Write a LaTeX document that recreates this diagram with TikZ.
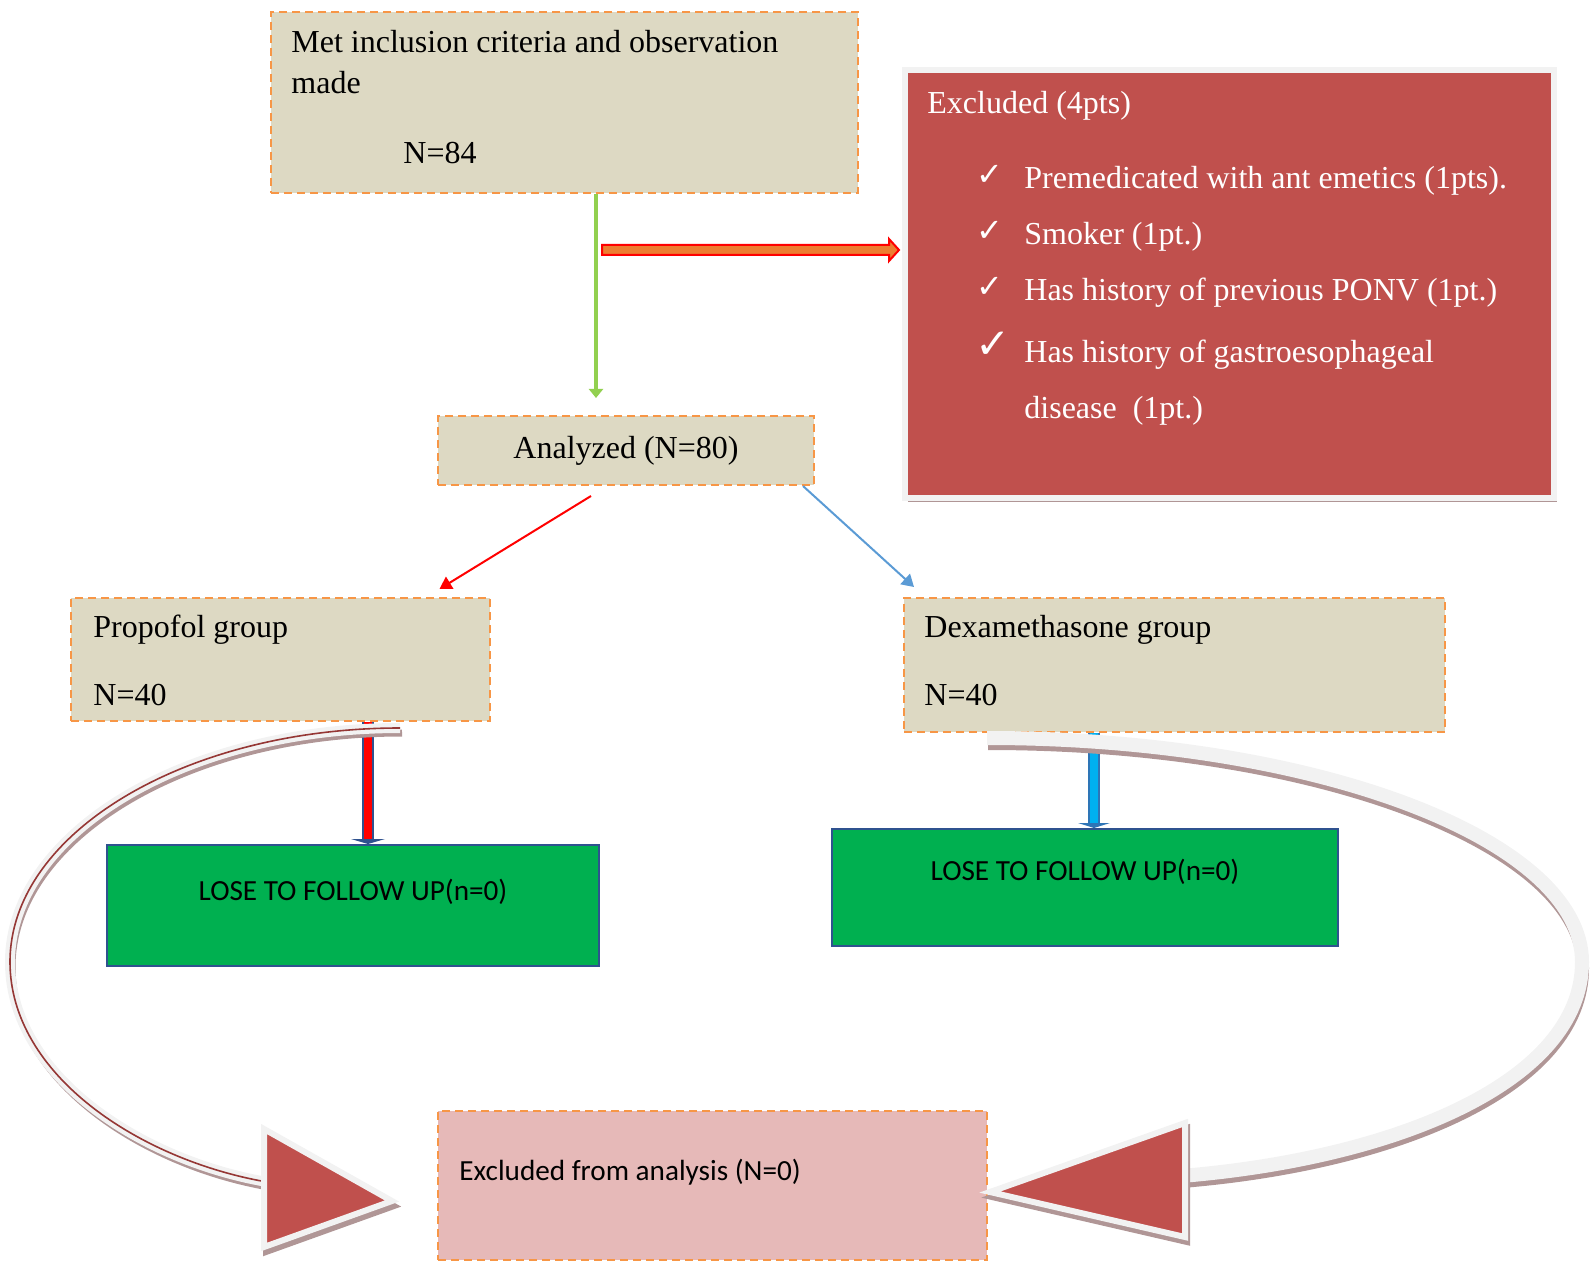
\documentclass[tikz,border=0pt]{standalone}
\usepackage{fontspec}
\setmainfont{Liberation Serif}
\newfontfamily\carlito{Carlito}
\newfontfamily\dejavu{DejaVu Sans}
\usetikzlibrary{calc,arrows.meta,shadows}
\definecolor{boxbeige}{HTML}{DDD9C3}
\definecolor{boxorange}{HTML}{F79646}
\definecolor{exred}{HTML}{C0504D}
\definecolor{lfugreen}{HTML}{00B050}
\definecolor{lfuborder}{HTML}{2F528F}
\definecolor{exclpink}{HTML}{E6B9B8}
\definecolor{arrgreen}{HTML}{92D050}
\definecolor{arrorange}{HTML}{ED7D31}
\definecolor{arrblue}{HTML}{5B9BD5}
\definecolor{arrcyan}{HTML}{00B0F0}
\definecolor{cyanborder}{HTML}{2E75B6}
\definecolor{bandgrey}{HTML}{F2F2F2}
\definecolor{bandshadow}{HTML}{B09696}
\definecolor{banddark}{HTML}{953735}
\tikzstyle{beigebox}  = [rectangle, fill=boxbeige, draw=boxorange, dash pattern=on 4pt off 2.5pt, line width=1pt, inner sep=0pt]
\tikzstyle{lfubox}    = [rectangle, fill=lfugreen, draw=lfuborder, line width=1pt, inner sep=0pt]
\tikzstyle{boxtext}   = [anchor=west, inner sep=0pt, text height=10.6pt, text depth=0pt, font=\fontsize{16}{19}\selectfont]
\tikzstyle{whitetext} = [boxtext, text=white]
\tikzstyle{checkmark} = [inner sep=0pt, text=white, font=\dejavu\fontsize{16}{16}\selectfont]
\tikzstyle{calitext}  = [inner sep=0pt, text height=9.3pt, text depth=0pt, font=\carlito\fontsize{14.6}{17}\selectfont]
\tikzstyle{arrow}     = [line width=1pt, -{Triangle[width=7pt,length=6pt]}]
\tikzstyle{shaft}     = [line width=1pt, double distance=4pt]
\tikzstyle{bandhead}  = [fill=exred, draw=bandgrey, line width=3pt, line join=miter,
                         preaction={draw=bandshadow, fill=bandshadow, line width=3pt, transform canvas={shift={(1pt,-2.5pt)}}}]

\begin{document}
\begin{tikzpicture}[x=0.5pt, y=-0.5pt]
		\useasboundingbox (0,0) rectangle (1596,1262);

		\node[beigebox, minimum width=293.5pt, minimum height=90.5pt] (incl) at (564.5,102.5) {};
		\node[boxtext] (incltxt) at (291,42) {Met inclusion criteria and observation};
		\node[boxtext] (incltxt2) at (291,83) {made};
		\node[boxtext] (inclN) at (403,153) {N=84};

		\node[fill=exred, draw=bandgrey, line width=3pt, inner sep=0pt, minimum width=324.5pt, minimum height=214pt,
			drop shadow={shadow xshift=1.5pt, shadow yshift=-2pt, fill=bandshadow, opacity=1}] (excl) at (1229.5,284) {};
		\node[whitetext] (extitle) at (927,103) {Excluded (4pts)};
		\foreach \y/\txt [count=\i] in {178/Premedicated with ant emetics (1pts)., 234/Smoker (1pt.), 290/Has history of previous PONV (1pt.)} {
			\node[checkmark] (chk\i) at (990,\y-3) {✓};
			\node[whitetext] (item\i) at (1024,\y) {\txt};
		}
		\node[checkmark, font=\dejavu\fontsize{21}{21}\selectfont] (chk4) at (993,345) {✓};
		\node[whitetext] (item4) at (1024,352) {Has history of gastroesophageal};
		\node[whitetext] (item4b) at (1024,408) {disease\ \ (1pt.)};

		\node[beigebox, minimum width=188pt, minimum height=34.5pt, font=\fontsize{16}{19}\selectfont] (anlz) at (626,450.5) {Analyzed (N=80)};

		\node[beigebox, minimum width=209.5pt, minimum height=61.5pt] (prop) at (280.5,659.5) {};
		\node[boxtext] (proptxt) at (93,627) {Propofol group};
		\node[boxtext] (propN) at (93,695) {N=40};

		\node[beigebox, minimum width=270.5pt, minimum height=67pt] (dexa) at (1174.5,665) {};
		\node[boxtext] (dexatxt) at (924,627) {Dexamethasone group};
		\node[boxtext] (dexaN) at (924,695) {N=40};

		\node[lfubox, minimum width=246pt, minimum height=60.5pt] (lfuprop) at (353,905.5) {};
		\node[calitext] (lfuproptxt) at (353,891) {LOSE TO FOLLOW UP(n=0)};
		\node[lfubox, minimum width=253pt, minimum height=58.5pt] (lfudexa) at (1085,887.5) {};
		\node[calitext] (lfudexatxt) at (1085,871) {LOSE TO FOLLOW UP(n=0)};

		\node[beigebox, fill=exclpink, minimum width=274.5pt, minimum height=74.5pt] (exan) at (712.5,1185.5) {};
		\node[calitext, anchor=west] (exantxt) at (459,1171) {Excluded from analysis (N=0)};

		\coordinate (gx) at (596,0);
		\draw[line width=2.2pt, arrgreen, -{Triangle[width=7pt,length=4.5pt]}] (incl.south -| gx) -- ([yshift=8.5pt]anlz.north -| gx);

		\coordinate (branch) at (602,250);
		\coordinate (tip) at ($(excl.west |- branch)+(-3,0)$);
		\draw[fill=arrorange, draw=red, line width=1pt] ($(branch)+(0,-5)$) -- ($(tip)+(-10,-5)$) -- ($(tip)+(-10,-11)$) -- (tip)
			-- ($(tip)+(-10,11)$) -- ($(tip)+(-10,5)$) -- ($(branch)+(0,5)$) -- cycle;

		\draw[arrow, red] ([xshift=-17.5pt,yshift=-5pt]anlz.south) -- ([xshift=79.5pt,yshift=4pt]prop.north);
		\draw[arrow, arrblue] ([xshift=-6pt]anlz.south east) -- ([xshift=5.5pt,yshift=5pt]dexa.north west);

		\coordinate (rx) at (368,0);
		\draw[shaft, draw=lfuborder, double=red] (prop.south -| rx) -- ([yshift=2pt]lfuprop.north -| rx);
		\fill[lfuborder] ($(lfuprop.north -| rx)+(-17,-5)$) -- ($(lfuprop.north -| rx)+(17,-5)$) -- (lfuprop.north -| rx) -- cycle;

		\coordinate (bx) at (1094,0);
		\draw[shaft, draw=cyanborder, double=arrcyan] (dexa.south -| bx) -- ([yshift=2pt]lfudexa.north -| bx);
		\fill[cyanborder] ($(lfudexa.north -| bx)+(-16,-5)$) -- ($(lfudexa.north -| bx)+(16,-5)$) -- (lfudexa.north -| bx) -- cycle;

		\coordinate (lstart) at (400,728);
		\coordinate (lend) at (267,1182);
		\draw[bandgrey, line width=5pt, preaction={draw=bandshadow, line width=3.5pt, transform canvas={shift={(1pt,-2.5pt)}}},
			postaction={draw=banddark, line width=0.8pt}]
			(lstart) .. controls (186,728) and (10,833) .. (10,962) .. controls (10,1075) and (140,1160) .. (lend);
		\draw[bandhead] (264,1129) -- (392,1201) -- (264,1247) -- cycle;

		\coordinate (rstart) at (987,738);
		\coordinate (rend) at (1181,1176);
		\draw[bandgrey, line width=7pt, preaction={draw=bandshadow, line width=6pt, transform canvas={shift={(0.5pt,-3pt)}}}]
			(rstart) .. controls (1317,738) and (1582,840) .. (1582,962) .. controls (1582,1080) and (1400,1158) .. (rend);
		\draw[bandhead] (1185,1123) -- (990,1192) -- (1185,1237) -- cycle;
	\end{tikzpicture}
\end{document}
